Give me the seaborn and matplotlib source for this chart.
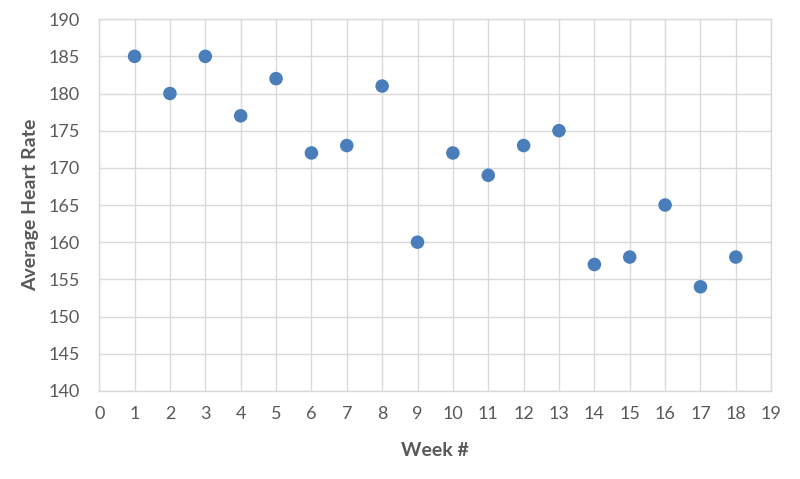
import matplotlib
matplotlib.use("Agg")
import matplotlib.pyplot as plt
import seaborn as sns
import pandas as pd

# data
weeks = [1, 2, 3, 4, 5, 6, 7, 8, 9, 10, 11, 12, 13, 14, 15, 16, 17, 18]
heart_rate = [185, 180, 185, 177, 182, 172, 173, 181, 160, 172, 169, 173, 175, 157, 158, 165, 154, 158]
x_ticks = list(range(0, 20))
y_ticks = list(range(140, 191, 5))

df = pd.DataFrame({"week": weeks, "hr": heart_rate})

sns.set_style("white")
plt.rcParams["font.family"] = ["Lato", "DejaVu Sans"]

fig = plt.figure(figsize=(8, 4.79), dpi=100)
ax = fig.add_axes([0.124, 0.184, 0.84, 0.776])

sns.scatterplot(data=df, x="week", y="hr", ax=ax, color="#4A7EBB",
                s=95, edgecolor="none", zorder=3)

ax.set_xlim(0, 19)
ax.set_ylim(140, 190)
ax.set_xticks(x_ticks)
ax.set_yticks(y_ticks)
ax.grid(True, color="#D9D9D9", linewidth=1.0)
ax.set_axisbelow(True)
for side in ax.spines:
    ax.spines[side].set_color("#D9D9D9")
    ax.spines[side].set_linewidth(1.0)

ax.tick_params(axis="both", length=0, labelsize=13, labelcolor="#595959")
ax.tick_params(axis="x", pad=11)
ax.tick_params(axis="y", pad=14)
ax.set_xlabel("Week #", fontsize=14, fontweight="bold", color="#595959", labelpad=14)
ax.set_ylabel("Average Heart Rate", fontsize=14, fontweight="bold", color="#595959", labelpad=7)

fig.savefig("out.png", dpi=100)
